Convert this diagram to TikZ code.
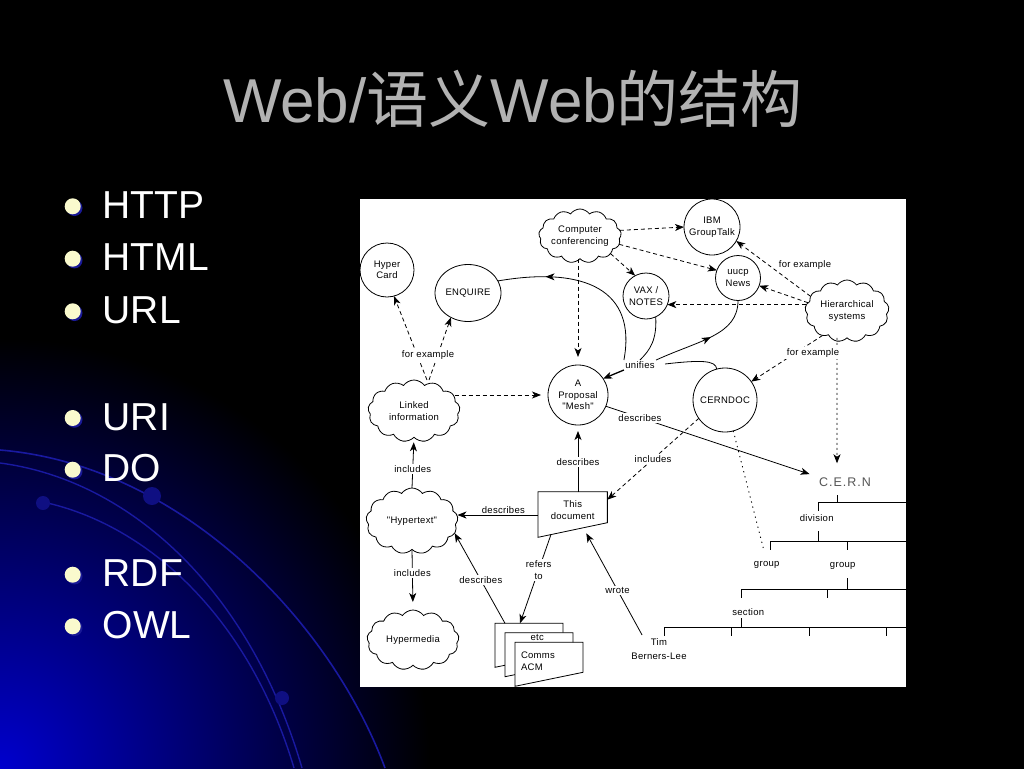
\documentclass[tikz,border=0pt]{standalone}
\usepackage{fontspec}
\setmainfont{Liberation Sans}
\newfontfamily\cjk{Noto Sans CJK SC}
\newfontfamily\dfont[LetterSpace=3]{Liberation Sans}
\newfontfamily\cernfont[LetterSpace=8]{Liberation Sans}
\usetikzlibrary{arrows.meta,shapes.symbols,shapes.geometric,decorations.markings,calc}
\definecolor{bulletc}{RGB}{250,250,205}
\definecolor{bgblue}{RGB}{0,0,205}
\definecolor{arcblue}{RGB}{25,25,160}
\definecolor{dotblue}{RGB}{15,15,130}
\definecolor{titlegray}{RGB}{178,178,178}
\definecolor{shadowblue}{RGB}{25,25,150}
\definecolor{cerngray}{RGB}{85,85,85}
\begin{document}
\begin{tikzpicture}[x=1pt,y=-1pt,
  every node/.style={inner sep=0pt, outer sep=0pt},
  dtext/.style={font=\dfont\fontsize{9.5}{11.5}\selectfont, align=center, text=black},
  circ/.style={dtext, circle, draw=black, line width=0.8pt, minimum size=#1},
  ell/.style={dtext, ellipse, draw=black, line width=0.8pt, minimum width=66, minimum height=57},
  cloudn/.style={dtext, cloud, draw=black, line width=0.8pt, cloud puffs=13, cloud puff arc=110, cloud ignores aspect},
  lbl/.style={dtext, fill=white, inner sep=1.5pt},
  arrtip/.style={-{Stealth[length=9pt,width=7pt,inset=2.5pt]}},
  arr/.style={draw=black, line width=0.8pt, arrtip},
  dsh/.style={draw=black, line width=0.8pt, dash pattern=on 4pt off 3pt, arrtip},
  dshort/.style={draw=black, line width=0.8pt, dash pattern=on 2pt off 3pt, arrtip},
  dotl/.style={draw=black, line width=0.9pt, dash pattern=on 1.2pt off 4pt},
  midarrow/.style={postaction={decorate}, decoration={markings, mark=at position #1 with {\arrow{Stealth[length=9pt,width=7pt,inset=2.5pt]}}}},
  docbox/.style={minimum width=68, minimum height=44, anchor=north west},
  bul/.style={anchor=base west, text=white, font=\fontsize{39}{39}\selectfont},
  treeline/.style={draw=black, line width=0.8pt}
]
\useasboundingbox (0,0) rectangle (1024,768);
% background
\fill[black] (-3,-3) rectangle (1027,771);
\begin{scope}
  \clip (-3,-3) rectangle (1027,771);
  \shade[inner color=bgblue, outer color=black] (0,768) circle (430);
  \draw[arcblue, line width=1.6pt] (0,450) .. controls (180,465) and (330,620) .. (385,768);
  \draw[arcblue, line width=1.4pt] (0,463) .. controls (130,480) and (250,590) .. (302,768);
  \draw[arcblue, line width=1.4pt] (43,502) .. controls (150,525) and (250,620) .. (294,768);
  \fill[dotblue] (152,496) circle (9);
  \fill[dotblue] (43,503) circle (7);
  \fill[dotblue] (282,698) circle (7);
\end{scope}

% title
\node[anchor=base, text=titlegray, font=\fontsize{62}{62}\selectfont] (title) at (513,122) {Web/{\cjk 语义}Web{\cjk 的结构}};

% bullets
\foreach \yy in {218.3,270.7,323.3,430,481.7,586.7,638.3} {
  \fill[shadowblue] (74.5,\yy-10.3) circle (8);
  \fill[bulletc] (72.7,\yy-12) circle (8);
}
\node[bul] (b1) at (102.7,218.3) {HTTP};
\node[bul] (b2) at (102.7,270.7) {HTML};
\node[bul] (b3) at (102.7,323.3) {URL};
\node[bul] (b4) at (102.7,430) {URI};
\node[bul] (b5) at (102.7,481.7) {DO};
\node[bul] (b6) at (102.7,586.7) {RDF};
\node[bul] (b7) at (102.7,638.3) {OWL};

% diagram panel
\fill[white] (360,199) rectangle (906,687);

% nodes
\node[circ=54] (hc) at (387,270) {Hyper\\Card};
\node[ell] (enq) at (468,293) {ENQUIRE};
\node[cloudn, minimum width=78, minimum height=54] (cc) at (580,236) {Computer\\conferencing};
\node[circ=56] (ibm) at (712,227) {IBM\\GroupTalk};
\node[circ=45] (uucp) at (738,278) {uucp\\News};
\node[circ=46] (vax) at (646,296) {VAX /\\NOTES};
\node[cloudn, minimum width=84, minimum height=62] (hier) at (847,311) {Hierarchical\\systems};
\node[circ=60] (mesh) at (578,395) {A\\Proposal\\"Mesh"};
\node[circ=64] (cerndoc) at (725,400) {CERNDOC};
\node[cloudn, minimum width=92, minimum height=62] (li) at (414,411) {Linked\\information};
\node[cloudn, minimum width=92, minimum height=66] (ht) at (412,521) {"Hypertext"};
\node[cloudn, minimum width=92, minimum height=60] (hm) at (413,640) {Hypermedia};

% This document
\node[dtext, minimum width=69.3, minimum height=36.6] (doc) at (572.7,510) {This\\document};
\draw[line width=0.8pt] (doc.north west) -- (doc.north east) -- ([yshift=5.6pt]doc.south east) -- ([yshift=-9pt]doc.south west) -- cycle;

% stack of documents
\node[docbox] (s1) at (495,623.3) {};
\filldraw[fill=white, line width=0.8pt] (s1.north west) -- (s1.north east) -- ([yshift=14pt]s1.south east) -- (s1.south west) -- cycle;
\node[docbox] (s2) at (505,632.7) {};
\filldraw[fill=white, line width=0.8pt] (s2.north west) -- (s2.north east) -- ([yshift=14pt]s2.south east) -- (s2.south west) -- cycle;
\node[dtext] (etc) at (537.3,637.8) {etc};
\node[docbox] (s3) at (515,642.3) {};
\filldraw[fill=white, line width=0.8pt] (s3.north west) -- (s3.north east) -- ([yshift=14pt]s3.south east) -- (s3.south west) -- cycle;
\node[dtext, anchor=west, align=left, font=\dfont\fontsize{9.5}{12.5}\selectfont] (cacm) at (521,661) {Comms\\ACM};

% tree
\node[font=\cernfont\fontsize{12.5}{14}\selectfont, text=cerngray] (cern) at (845,481.7) {C.E.R.N};
\node[dtext] (division) at (816.7,518.3) {division};
\node[dtext] (group1) at (766.7,565) {group};
\node[dtext] (group2) at (842.7,566) {group};
\node[dtext] (section) at (748.3,611.7) {section};
\node[dtext, font=\dfont\fontsize{9.5}{14}\selectfont] (tim) at (659,649) {Tim\\Berners-Lee};
\draw[treeline] (837,495) -- (837,502);
\draw[treeline] (818,502) -- (906,502);
\draw[treeline] (818,502) -- (818,511);
\draw[treeline] (818,531) -- (818,541);
\draw[treeline] (770,541) -- (906,541);
\draw[treeline] (770,541) -- (770,550);
\draw[treeline] (847,541) -- (847,550);
\draw[treeline] (847,578) -- (847,589);
\draw[treeline] (741,589) -- (906,589);
\draw[treeline] (741,589) -- (741,598);
\draw[treeline] (827,589) -- (827,598);
\draw[treeline] (741,618) -- (741,627);
\draw[treeline] (664,627) -- (906,627);
\draw[treeline] (664,627) -- (664,636);
\draw[treeline] (731,627) -- (731,636);
\draw[treeline] (809,627) -- (809,636);
\draw[treeline] (886,627) -- (886,636);

% dashed connectors
\draw[dsh] (cc.8) -- (ibm.west);
\draw[dsh] (cc.-30) -- (vax.118);
\draw[dsh] (cc.-12) -- (uucp.160);
\draw[dsh, shorten >=8pt] (mesh.north |- cc.south) -- (mesh.north);
\draw[dsh] (hier.158) -- (ibm.-30);
\draw[dsh] (hier.168) -- (uucp.-20);
\coordinate (hv) at (vax.-22);
\draw[dsh] (hier.west |- hv) -- (hv);
\draw[dsh] (hier.-135) -- (cerndoc.35);
\draw[dshort, shorten >=14pt] ([xshift=-10pt]hier.south) -- ([xshift=-8pt]cern.north);
\node[lbl] (fe1) at (805,265) {for example};
\node[lbl] (fe2) at (813,353) {for example};
\draw[dsh] ([xshift=13pt]li.north) -- (hc.-75);
\draw[dsh] ([xshift=15pt]li.north) -- (enq.-125);
\node[lbl] (fe0) at (428,355) {for example};
\draw[dsh, shorten >=7pt] ($(li.east |- mesh.west)+(-5,0)$) -- (mesh.west);
\draw[dsh] (cerndoc.-145) -- ([yshift=-8pt]doc.north east) node[lbl, pos=0.5] {includes};
\draw[dotl, shorten >=11pt] (cerndoc.-75) -- (group1.north);

% unifies
\node[dtext, inner sep=1.5pt] (uni) at (640,365) {unifies};
\draw[line width=0.8pt, midarrow=0.74] (uni.north west) .. controls (637,290) and (585,266) .. (enq.22);
\draw[line width=0.8pt] (uni.north) .. controls (650,350) and (657,340) .. (vax.-65);
\draw[line width=0.8pt, midarrow=0.55] (uni.north east) .. controls (700,340) and (738,335) .. (uucp.south);
\draw[line width=0.8pt, shorten <=9pt] (uni.east) .. controls (700,360) and (716,360) .. (cerndoc.105);
\draw[arr, line width=1.3pt] (uni.south west) -- (mesh.33);

% solid connectors
\draw[arr, shorten >=10pt] (mesh.-22) -- (cern.north west) node[lbl, pos=0.16] {describes};
\draw[arr, shorten >=6pt] (mesh.south |- doc.north) -- (mesh.south) node[lbl, pos=0.45] {describes};
\coordinate (dw) at ([yshift=-5pt]doc.west);
\draw[arr] (dw) -- (dw -| ht.east) node[dtext, pos=0.43, above=1.5pt] {describes};
\draw[arr, shorten >=5pt] (ht.north) -- (li.south) node[lbl, pos=0.38] {includes};
\draw[arr, shorten >=8pt] (ht.south) -- (hm.north) node[lbl, pos=0.39] {includes};
\draw[arr] ([xshift=-24pt]s1.north) -- (ht.-16) node[lbl, pos=0.48] {describes};
\draw[arr] ([xshift=13pt,yshift=-6pt]doc.south west) -- ([xshift=-9pt]s1.north) node[lbl, pos=0.4] {refers\\to};
\draw[arr, shorten <=4pt] ([xshift=-15pt]tim.north) -- ([xshift=13.6pt,yshift=-5pt]doc.south) node[lbl, pos=0.46] {wrote};
\end{tikzpicture}
\end{document}
